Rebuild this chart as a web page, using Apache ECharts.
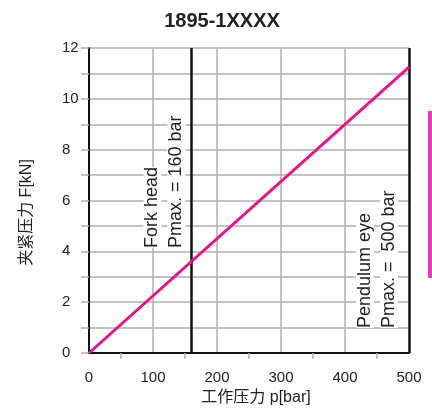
<!DOCTYPE html>
<html><head><meta charset="utf-8">
<script src="https://cdn.jsdelivr.net/npm/echarts@6/dist/echarts.min.js"></script>
<style>html,body{margin:0;padding:0;background:#fff}#c{width:432px;height:410px}</style>
</head><body><div id="c"></div>
<script>
const chartTitle = '1895-1XXXX';
const pressure = [0, 500];
const force = [0, 11.25];
const limitPressures = [160, 500];
const limitTexts = [['Fork head', 'Pmax. = 160 bar'], ['Pendulum eye', 'Pmax. =  500 bar']];
const xName = '工作压力 p[bar]';
const yName = '夹紧压力 F[kN]';

const FONT = '"Liberation Sans", Arial, "Noto Sans CJK SC", sans-serif';
const GRID_COLOR = '#b0b0b0';
const TXT = '#222';

const lineData = pressure.map((p, i) => [p, force[i]]);
const labelDistances = [[105, 3], [25, 8]];

const chart = echarts.init(document.getElementById('c'), null, {renderer: 'canvas'});
chart.setOption({
  animation: false,
  backgroundColor: '#fff',
  title: {
    text: chartTitle, left: 222, top: 11, padding: 0, textAlign: 'center',
    textStyle: {fontFamily: FONT, fontSize: 20, fontWeight: 'bold', color: TXT}
  },
  grid: {left: 89, right: 23, top: 48, bottom: 57, containLabel: false, outerBoundsMode: 'none'},
  xAxis: {
    type: 'value', min: 0, max: 500, interval: 100,
    name: xName, nameLocation: 'middle', nameGap: 37,
    nameTextStyle: {fontFamily: FONT, fontSize: 16, color: TXT, padding: [0, 0, 0, 14]},
    axisLine: {show: true, onZero: false, lineStyle: {color: '#111', width: 2}},
    axisTick: {show: false},
    minorTick: {show: true, splitNumber: 2, length: 6, lineStyle: {color: GRID_COLOR, width: 1.5}},
    axisLabel: {fontFamily: FONT, fontSize: 15, color: TXT, margin: 17},
    splitLine: {show: true, showMinLine: false, showMaxLine: false, lineStyle: {color: GRID_COLOR, width: 1.5}},
    minorSplitLine: {show: false}
  },
  yAxis: {
    type: 'value', min: 0, max: 12, interval: 2,
    name: yName, nameLocation: 'middle', nameGap: 54,
    nameTextStyle: {fontFamily: FONT, fontSize: 16, color: TXT, padding: [0, 24, 0, 0]},
    axisLine: {show: true, onZero: false, lineStyle: {color: '#111', width: 2}},
    axisTick: {show: true, length: 8, lineStyle: {color: GRID_COLOR, width: 1.5}},
    minorTick: {show: true, splitNumber: 2, length: 8, lineStyle: {color: GRID_COLOR, width: 1.5}},
    axisLabel: {fontFamily: FONT, fontSize: 15, color: TXT, margin: 27, align: 'left'},
    splitLine: {show: true, showMinLine: false, lineStyle: {color: GRID_COLOR, width: 1.5}},
    minorSplitLine: {show: true, lineStyle: {color: GRID_COLOR, width: 1.5}}
  },
  series: [{
    type: 'line',
    data: lineData,
    symbol: 'none',
    silent: true,
    z: 3,
    lineStyle: {color: '#e8138a', width: 3},
    markLine: {
      silent: true,
      z: 1,
      symbol: ['none', 'none'],
      lineStyle: {color: '#111', width: 2.5, type: 'solid'},
      emphasis: {disabled: true},
      data: limitPressures.map((p, i) => ({
        xAxis: p,
        label: {
          show: true,
          position: 'insideStartTop',
          distance: labelDistances[i],
          formatter: limitTexts[i].map(t => '{a|' + t + '}').join('\n'),
          rich: {a: {fontFamily: FONT, fontSize: 18, color: TXT, lineHeight: 24, backgroundColor: '#fff'}}
        }
      }))
    }
  }],
  graphic: [{
    type: 'rect', left: 428, top: 111, silent: true,
    shape: {width: 4, height: 167}, style: {fill: '#f533c8'}
  }]
});
</script>
</body></html>
